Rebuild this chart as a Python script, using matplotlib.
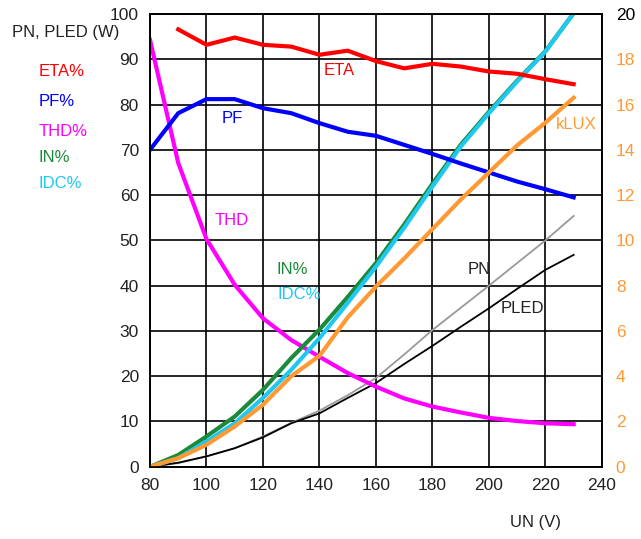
import matplotlib
matplotlib.use("Agg")
import matplotlib.pyplot as plt

plt.rcParams['font.family'] = ['Liberation Sans', 'DejaVu Sans']

# mains voltage (V)
un_eta = [90, 100, 110, 120, 130, 140, 150, 160, 170, 180, 190, 200, 210, 220, 230]
un = [80, 90, 100, 110, 120, 130, 140, 150, 160, 170, 180, 190, 200, 210, 220, 230]

eta = [96.6, 93.2, 94.8, 93.2, 92.8, 91.0, 91.9, 89.6, 88.0, 89.0, 88.4, 87.3, 86.8, 85.6, 84.5]
pf = [70.0, 78.1, 81.2, 81.2, 79.2, 78.1, 75.9, 74.0, 73.1, 71.1, 69.1, 67.0, 65.0, 63.0, 61.3, 59.5]
thd = [94.3, 67.1, 50.3, 40.2, 32.8, 28.0, 24.3, 20.7, 17.7, 15.1, 13.3, 12.0, 10.8, 10.1, 9.6, 9.4]
in_pct = [0.0, 2.6, 6.7, 11.1, 17.0, 24.0, 30.3, 37.5, 45.0, 53.5, 62.5, 71.1, 78.4, 85.3, 91.8, 100.2]
idc_pct = [0.0, 1.9, 5.6, 9.6, 15.2, 21.4, 28.4, 36.2, 44.2, 52.8, 61.9, 70.7, 78.1, 85.1, 91.7, 100.2]
pn = [0.0, 0.8, 2.3, 4.1, 6.7, 9.7, 12.4, 15.8, 19.6, 24.8, 30.2, 35.1, 40.0, 45.0, 50.0, 55.4]
pled = [0.0, 0.9, 2.3, 4.1, 6.5, 9.6, 11.8, 15.2, 18.5, 22.7, 26.7, 30.9, 35.0, 39.3, 43.5, 46.8]
klux = [0.0, 0.38, 0.97, 1.78, 2.74, 4.0, 4.9, 6.6, 7.96, 9.2, 10.5, 11.8, 13.0, 14.2, 15.2, 16.3]

RED = '#ff0000'
BLUE = '#0000ff'
MAG = '#ff00ff'
GREEN = '#1b8a3a'
CYAN = '#1ec8f0'
ORANGE = '#ff9933'

fig = plt.figure(figsize=(6.41, 5.39), dpi=100)
ax = fig.add_axes([0.234, 0.134, 0.705, 0.84])
ax2 = ax.twinx()

ax.plot(un, pn, color='#999999', lw=1.3)
ax.plot(un, pled, color='black', lw=1.3)
ax.plot(un, thd, color=MAG, lw=3.0)
ax.plot(un, in_pct, color=GREEN, lw=3.0)
ax.plot(un, idc_pct, color=CYAN, lw=3.0)
ax.plot(un_eta, eta, color=RED, lw=3.0)
ax.plot(un, pf, color=BLUE, lw=3.0)
ax2.plot(un, klux, color=ORANGE, lw=3.0)

ax.set_xlim(80, 240)
ax.set_ylim(0, 100)
ax2.set_ylim(0, 20)
ax.set_xticks(range(80, 241, 20))
ax.set_yticks(range(0, 101, 10))
ax2.set_yticks(range(0, 21, 2))
ax.grid(True, color='black', lw=1.2)
ax.set_axisbelow(True)
for a in (ax, ax2):
    for s in a.spines.values():
        s.set_color('black')
        s.set_linewidth(1.2)
ax.tick_params(length=0, labelsize=12.5, pad=8, colors='#222222')
ax2.tick_params(length=0, labelsize=12.5, pad=10, colors=ORANGE)
ax2.get_yticklabels()[-1].set_color('black')

# in-plot curve labels
fs = 12
ax.text(147, 87.5, 'ETA', color=RED, fontsize=fs, ha='center', va='center')
ax.text(109, 77, 'PF', color=BLUE, fontsize=fs, ha='center', va='center')
ax.text(109, 54.5, 'THD', color=MAG, fontsize=fs, ha='center', va='center')
ax.text(130.5, 43.5, 'IN%', color=GREEN, fontsize=fs, ha='center', va='center')
ax.text(133, 38, 'IDC%', color=CYAN, fontsize=fs, ha='center', va='center')
ax.text(196.5, 43.5, 'PN', color='#222222', fontsize=fs, ha='center', va='center')
ax.text(212, 35, 'PLED', color='#222222', fontsize=fs, ha='center', va='center')
ax.text(231, 75.5, 'kLUX', color=ORANGE, fontsize=fs, ha='center', va='center')

# legend-like labels at the left
fig.text(12 / 641, 1 - 33 / 539, 'PN, PLED (W)', color='#222222', fontsize=fs, va='center')
for lbl, col, ypx in [('ETA%', RED, 72), ('PF%', BLUE, 101), ('THD%', MAG, 131),
                      ('IN%', GREEN, 157), ('IDC%', CYAN, 183)]:
    fig.text(39 / 641, 1 - ypx / 539, lbl, color=col, fontsize=fs, va='center')

fig.text(535 / 641, 1 - 522 / 539, 'UN (V)', color='#222222', fontsize=fs, ha='center', va='center')

fig.savefig('out.png', dpi=100)
